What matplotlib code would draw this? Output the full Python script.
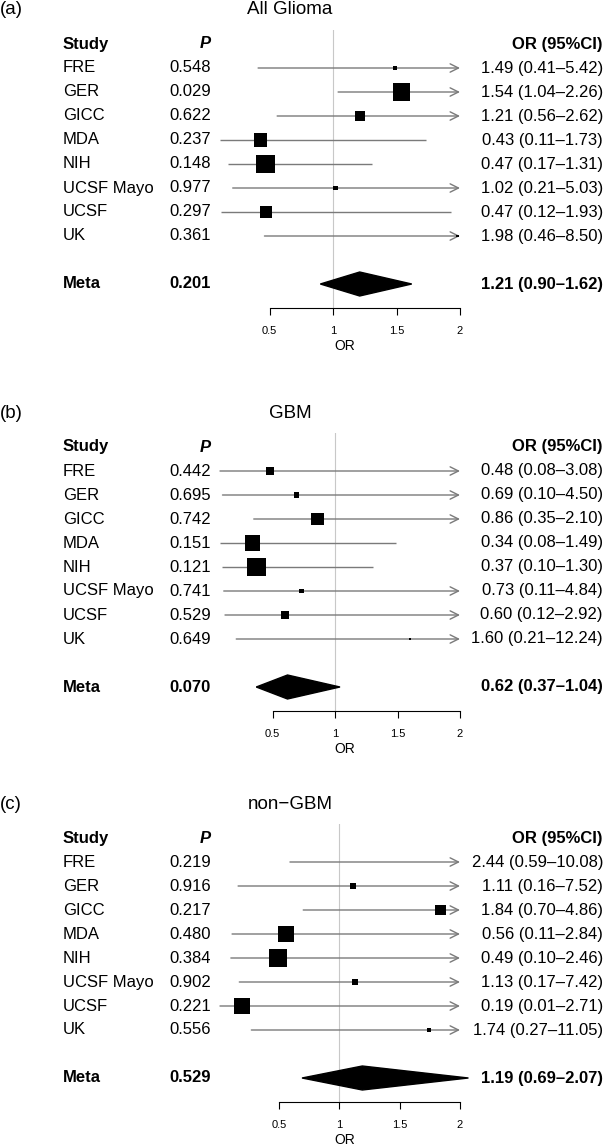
import numpy as np
import matplotlib
matplotlib.use('Agg')
import matplotlib.pyplot as plt
import matplotlib.transforms as mtransforms
from matplotlib.patches import Polygon

plt.rcParams['font.family'] = ['Liberation Sans', 'DejaVu Sans']

studies = ['FRE', 'GER', 'GICC', 'MDA', 'NIH', 'UCSF Mayo', 'UCSF', 'UK']

# (a) All Glioma
p_a = [0.548, 0.029, 0.622, 0.237, 0.148, 0.977, 0.297, 0.361]
or_a = [1.49, 1.54, 1.21, 0.43, 0.47, 1.02, 0.47, 1.98]
lo_a = [0.41, 1.04, 0.56, 0.11, 0.17, 0.21, 0.12, 0.46]
hi_a = [5.42, 2.26, 2.62, 1.73, 1.31, 5.03, 1.93, 8.50]
meta_a = [0.201, 1.21, 0.90, 1.62]   # P, OR, lower, upper

# (b) GBM
p_b = [0.442, 0.695, 0.742, 0.151, 0.121, 0.741, 0.529, 0.649]
or_b = [0.48, 0.69, 0.86, 0.34, 0.37, 0.73, 0.60, 1.60]
lo_b = [0.08, 0.10, 0.35, 0.08, 0.10, 0.11, 0.12, 0.21]
hi_b = [3.08, 4.50, 2.10, 1.49, 1.30, 4.84, 2.92, 12.24]
meta_b = [0.070, 0.62, 0.37, 1.04]

# (c) non-GBM
p_c = [0.219, 0.916, 0.217, 0.480, 0.384, 0.902, 0.221, 0.556]
or_c = [2.44, 1.11, 1.84, 0.56, 0.49, 1.13, 0.19, 1.74]
lo_c = [0.59, 0.16, 0.70, 0.11, 0.10, 0.17, 0.01, 0.27]
hi_c = [10.08, 7.52, 4.86, 2.84, 2.46, 7.42, 2.71, 11.05]
meta_c = [0.529, 1.19, 0.69, 2.07]

xticks = [0.5, 1, 1.5, 2]
clip_hi = 2.0

W, H = 604, 1145
ROW = 24.0  # px per row
fig = plt.figure(figsize=(W / 100, H / 100), dpi=100)

line_col = '#7a7a7a'
fs = 12


def draw_panel(top, tag, title, p, orr, lo, hi, meta):
    ax = fig.add_axes([220 / W, 1 - (top + 308) / H, 240 / W, 278 / H])
    ax.set_xlim(min(lo), clip_hi)
    ax.set_ylim(11, -14 / ROW)
    rows = np.arange(1, len(studies) + 1)

    # box size from inverse CI width, like forestplot's default
    info = 1 / (np.array(hi) - np.array(lo))
    side = 0.78 * ROW * info / info.max() * 0.72   # points

    ax.axvline(1, color='#c8c8c8', lw=0.8, zorder=0)
    for r, l, h in zip(rows, lo, hi):
        if h > clip_hi:
            ax.annotate('', xy=(clip_hi, r), xytext=(l, r), annotation_clip=False,
                        arrowprops=dict(arrowstyle='->,head_length=0.6,head_width=0.3',
                                        color=line_col, lw=1.0, shrinkA=0, shrinkB=0))
        else:
            ax.plot([l, h], [r, r], color=line_col, lw=1.0, solid_capstyle='butt')
    ax.scatter(orr, rows, s=side ** 2, marker='s', color='black', linewidths=0, zorder=3)

    mp, mo, ml, mh = meta
    ax.add_patch(Polygon([(ml, 10), (mo, 9.5), (mh, 10), (mo, 10.5)], closed=True,
                         color='black', clip_on=False, zorder=3))

    for s in ['left', 'top', 'right']:
        ax.spines[s].set_visible(False)
    ax.spines['bottom'].set_bounds(xticks[0], xticks[-1])
    ax.spines['bottom'].set_linewidth(0.8)
    ax.set_yticks([])
    ax.set_xticks(xticks)
    ax.set_xticklabels([f'{t:g}' for t in xticks], fontsize=8)
    ax.tick_params(axis='x', direction='out', length=5, width=0.8, pad=8)
    ax.set_xlabel('OR', fontsize=10)
    ax.xaxis.set_label_coords((345 - 220) / 240, -(346 - 308) / 278)
    ax.xaxis.label.set_va('center')
    ax.patch.set_visible(False)

    tr = mtransforms.blended_transform_factory(fig.transFigure, ax.transData)
    hy = 0
    ax.text(63 / W, hy, 'Study', transform=tr, fontsize=fs, fontweight='bold', va='center')
    ax.text(211 / W, hy, 'P', transform=tr, fontsize=fs, fontweight='bold',
            fontstyle='italic', ha='right', va='center')
    ax.text(603 / W, hy, 'OR (95%CI)', transform=tr, fontsize=fs, fontweight='bold',
            ha='right', va='center')
    for r, name, pv, o, l, h in zip(rows, studies, p, orr, lo, hi):
        ax.text(63 / W, r, name, transform=tr, fontsize=fs, va='center')
        ax.text(211 / W, r, f'{pv:.3f}', transform=tr, fontsize=fs, ha='right', va='center')
        ax.text(603 / W, r, f'{o:.2f} ({l:.2f}\u2013{h:.2f})', transform=tr,
                fontsize=fs, ha='right', va='center')
    ax.text(63 / W, 10, 'Meta', transform=tr, fontsize=fs, fontweight='bold', va='center')
    ax.text(211 / W, 10, f'{mp:.3f}', transform=tr, fontsize=fs, fontweight='bold',
            ha='right', va='center')
    ax.text(603 / W, 10, f'{mo:.2f} ({ml:.2f}\u2013{mh:.2f})', transform=tr,
            fontsize=fs, fontweight='bold', ha='right', va='center')

    ty = -34 / ROW
    ax.text(0, ty, tag, transform=tr, fontsize=13.5, va='center', ha='left')
    ax.text(290 / W, ty, title, transform=tr, fontsize=13.5, va='center', ha='center')
    return ax


draw_panel(0, '(a)', 'All Glioma', p_a, or_a, lo_a, hi_a, meta_a)
draw_panel(403, '(b)', 'GBM', p_b, or_b, lo_b, hi_b, meta_b)
draw_panel(794, '(c)', 'non\u2212GBM', p_c, or_c, lo_c, hi_c, meta_c)

fig.savefig('out.png', dpi=100)
